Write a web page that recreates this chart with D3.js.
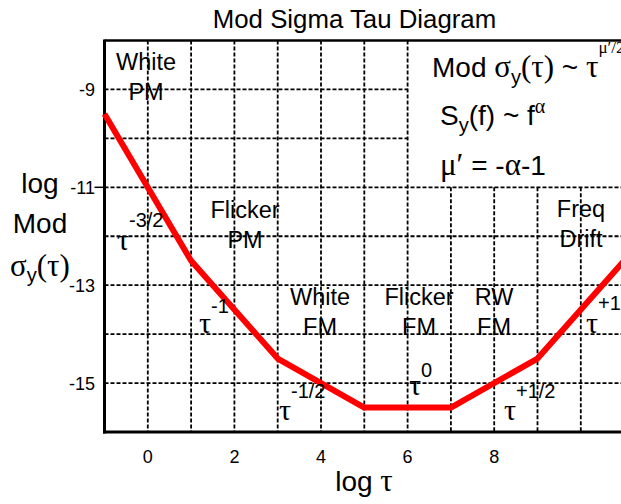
<!DOCTYPE html>
<html>
<head>
<meta charset="utf-8">
<script src="https://cdn.jsdelivr.net/npm/d3@7"></script>
<style>
  html, body { margin: 0; padding: 0; background: #fff; overflow: hidden; }
  svg { display: block; }
  .sans { font-family: "Liberation Sans", Arial, sans-serif; }
  .serif { font-family: "Liberation Serif", "Times New Roman", serif; }
</style>
</head>
<body>
<script>
// Asymptotic Mod sigma(tau) for the power-law noise types, in log10 units
const logTau      = [-1, 1, 3, 5, 7, 9, 11];
const logModSigma = [-9.5, -12.5, -14.5, -15.5, -15.5, -14.5, -12.5];

const xTickValues = [0, 2, 4, 6, 8];
const yTickValues = [-9, -11, -13, -15];
const xGridValues = [0, 1, 2, 3, 4, 5, 6, 7, 8, 9, 10];
const yGridValues = [-9, -10, -11, -12, -13, -14, -15];

// Noise type names (one entry per line) and the slope exponent of each segment
const noiseNames = [["White", "PM"], ["Flicker", "PM"], ["White", "FM"],
                    ["Flicker", "FM"], ["RW", "FM"], ["Freq", "Drift"]];
const slopeExponents = ["-3/2", "-1", "-1/2", "0", "+1/2", "+1"];

const W = 621, H = 504;
const svg = d3.select("body").append("svg")
  .attr("width", W).attr("height", H)
  .attr("viewBox", `0 0 ${W} ${H}`);

const x = d3.scaleLinear().domain([-1, 11]).range([104.5, 104.5 + 12 * 43.3]);
const y = d3.scaleLinear().domain([-8, -16]).range([40.5, 432]);

// Region in the upper right kept free of grid lines for the formulas
const boxTau = 6, boxSigma = -11;

// Title
svg.append("text").attr("class", "sans")
  .attr("x", 354.5).attr("y", 27.5)
  .attr("text-anchor", "middle").attr("font-size", 25.8)
  .text("Mod Sigma Tau Diagram");

// Dashed grid
const grid = svg.append("g")
  .attr("stroke", "#000").attr("stroke-width", 1.8)
  .attr("stroke-dasharray", "4,2").attr("fill", "none");
grid.selectAll("line.v").data(xGridValues).join("line")
  .attr("class", "v")
  .attr("x1", d => x(d)).attr("x2", d => x(d))
  .attr("y1", d => d > boxTau ? y(boxSigma) : y(-8))
  .attr("y2", y(-16));
grid.selectAll("line.h").data(yGridValues).join("line")
  .attr("class", "h")
  .attr("y1", d => y(d)).attr("y2", d => y(d))
  .attr("x1", x(-1))
  .attr("x2", d => d > boxSigma ? x(boxTau) : W);

// Frame: top edge, left and bottom axes
svg.append("line").attr("x1", x(-1)).attr("x2", W)
  .attr("y1", y(-8)).attr("y2", y(-8))
  .attr("stroke", "#000").attr("stroke-width", 2.5);
svg.append("line").attr("x1", x(-1)).attr("x2", x(-1))
  .attr("y1", y(-8) - 1).attr("y2", y(-16) + 1.5)
  .attr("stroke", "#000").attr("stroke-width", 3);
svg.append("line").attr("x1", x(-1) - 1.5).attr("x2", W)
  .attr("y1", y(-16)).attr("y2", y(-16))
  .attr("stroke", "#000").attr("stroke-width", 3);
svg.append("line").attr("x1", x(-1) - 10).attr("x2", x(-1))
  .attr("y1", y(-11)).attr("y2", y(-11))
  .attr("stroke", "#000").attr("stroke-width", 1.5);

// Tick labels
svg.append("g").selectAll("text").data(xTickValues).join("text")
  .attr("class", "sans").attr("font-size", 18)
  .attr("x", d => x(d)).attr("y", 463)
  .attr("text-anchor", "middle").text(d => d);
svg.append("g").selectAll("text").data(yTickValues).join("text")
  .attr("class", "sans").attr("font-size", 18)
  .attr("x", 95).attr("y", d => y(d) + 6.5)
  .attr("text-anchor", "end").text(d => d);

// Axis titles
const yt = svg.append("g").attr("font-size", 28);
yt.append("text").attr("class", "sans").attr("x", 40).attr("y", 193)
  .attr("text-anchor", "middle").text("log");
yt.append("text").attr("class", "sans").attr("x", 40).attr("y", 233)
  .attr("text-anchor", "middle").text("Mod");
const ys = yt.append("text").attr("x", 40).attr("y", 276).attr("text-anchor", "middle");
ys.append("tspan").attr("class", "serif").attr("font-size", 31).text("σ");
ys.append("tspan").attr("class", "sans").attr("font-size", 20).attr("dy", 6).text("y");
ys.append("tspan").attr("class", "serif").attr("font-size", 31).attr("dy", -6).text("(τ)");

const xt = svg.append("text").attr("x", 364).attr("y", 491)
  .attr("text-anchor", "middle").attr("font-size", 28);
xt.append("tspan").attr("class", "sans").text("log ");
xt.append("tspan").attr("class", "serif").attr("font-size", 31).text("τ");

// Sigma-tau curve
svg.append("path")
  .datum(logTau.map((t, i) => [t, logModSigma[i]]))
  .attr("fill", "none").attr("stroke", "#ff0000")
  .attr("stroke-width", 6).attr("stroke-linejoin", "round")
  .attr("d", d3.line().x(d => x(d[0])).y(d => y(d[1])));

// Noise type names
const namePos = [[146, 70], [245, 218], [320, 305], [419, 305], [494, 305], [581, 217]];
const names = svg.append("g").attr("class", "sans").attr("font-size", 23.5)
  .attr("text-anchor", "middle");
noiseNames.forEach((lines, i) => {
  lines.forEach((s, j) => {
    names.append("text")
      .attr("x", namePos[i][0]).attr("y", namePos[i][1] + j * 30)
      .text(s);
  });
});

// Slope labels: tau with exponent
const slopePos = [[117, 250], [199, 333], [279, 420], [409, 395], [504, 420], [586, 333]];
const supRise = [23, 20, 22, 18, 22, 23];
slopeExponents.forEach((e, i) => {
  const [px, py] = slopePos[i];
  svg.append("text").attr("class", "serif").attr("font-size", 30)
    .attr("x", px).attr("y", py).text("τ");
  svg.append("text").attr("class", "sans").attr("font-size", 20)
    .attr("x", px + 12).attr("y", py - supRise[i]).text(e);
});

// Formulas
const f1 = svg.append("text").attr("x", 432).attr("y", 77).attr("font-size", 28);
f1.append("tspan").attr("class", "sans").text("Mod ");
f1.append("tspan").attr("class", "serif").attr("font-size", 31).text("σ");
f1.append("tspan").attr("class", "sans").attr("font-size", 20).attr("dy", 7).text("y");
f1.append("tspan").attr("class", "serif").attr("font-size", 31).attr("dy", -7).text("(τ)");
f1.append("tspan").attr("class", "sans").text(" ~ ");
f1.append("tspan").attr("class", "serif").attr("font-size", 31).text("τ");
f1.append("tspan").attr("class", "serif").attr("font-size", 17).attr("dy", -24).text("μ′/2");

const f2 = svg.append("text").attr("x", 440).attr("y", 125).attr("font-size", 28);
f2.append("tspan").attr("class", "sans").text("S");
f2.append("tspan").attr("class", "sans").attr("font-size", 20).attr("dy", 7).text("y");
f2.append("tspan").attr("class", "sans").attr("dy", -7).text("(f) ~ f");
f2.append("tspan").attr("class", "serif").attr("font-size", 20).attr("dy", -12).text("α");

const f3 = svg.append("text").attr("x", 440).attr("y", 175).attr("font-size", 28);
f3.append("tspan").attr("class", "serif").attr("font-size", 31).text("μ′");
f3.append("tspan").attr("class", "sans").text(" = -");
f3.append("tspan").attr("class", "serif").attr("font-size", 31).text("α");
f3.append("tspan").attr("class", "sans").text("-1");
</script>
</body>
</html>
